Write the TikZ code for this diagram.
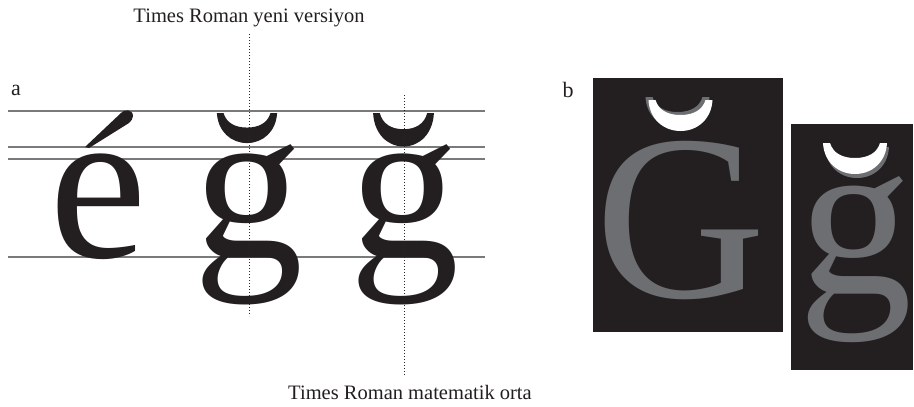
\documentclass[tikz,border=0pt]{standalone}
\usepackage{fontspec}
\setmainfont{Liberation Serif}
\definecolor{ink}{HTML}{231F20}
\definecolor{midgray}{HTML}{6D6E71}
\definecolor{lineg}{HTML}{7A7A7C}
\tikzset{
  caption/.style={inner sep=0pt, anchor=base, text=ink, font=\fontsize{20.5}{24}\selectfont},
  panellabel/.style={inner sep=0pt, anchor=base, text=ink, font=\fontsize{22}{26}\selectfont},
  bigglyph/.style={inner sep=0pt, anchor=base, text=ink, font=\fontsize{220}{220}\selectfont},
  grayglyph/.style={inner sep=0pt, anchor=base, text=midgray},
  guide/.style={draw=lineg, line width=1.3pt},
  dotline/.style={draw=black!85, line width=0.9pt, dash pattern=on 0.9pt off 2.1pt},
  panel/.style={fill=ink},
  brv/.pic={\path[pic actions] (-32,0) .. controls (-31,19) and (-17,31) .. (0,31)
      .. controls (17,31) and (31,19) .. (32,0) -- (25,0)
      .. controls (22,10) and (13,15) .. (0,15)
      .. controls (-13,15) and (-22,10) .. (-25,0) -- cycle;},
  acute/.pic={\path[pic actions] (0,0) -- (36,-34)
      .. controls (39,-38) and (48,-38) .. (48,-31)
      .. controls (48,-28) and (46,-26) .. (44,-24) -- (4,1) -- cycle;}
}
\begin{document}
\begin{tikzpicture}[x=1pt,y=-1pt]
\useasboundingbox (0,0) rectangle (914,407);
% panel a
\node[panellabel] (la) at (16,95) {a};
\draw[guide] (8,111) -- (485,111);
\draw[guide] (8,147) -- (485,147);
\draw[guide] (8,159) -- (485,159);
\draw[guide] (8,257) -- (485,257);
\node[bigglyph] (e) at (98,257) {e};
\pic[fill=ink] at (85,147) {acute};
\node[bigglyph] (g1) at (248,257) {g};
\node[bigglyph] (g2) at (404,257) {g};
\pic[fill=ink, xscale=0.94, yscale=0.97] at (247,113) {brv};
\pic[fill=ink, xscale=0.95, yscale=1.08] at (403.5,113) {brv};
\node[caption] (top) at (249,22) {Times Roman yeni versiyon};
\node[caption] (bot) at (410,399) {Times Roman matematik orta};
\coordinate (d1t) at (249,34);
\coordinate (d1b) at (249,316);
\coordinate (d2t) at (404,95);
\coordinate (d2b) at (404,375);
\draw[dotline] (d1t) -- (d1b);
\draw[dotline] (d2t) -- (d2b);
% panel b
\node[panellabel] (lb) at (568,97) {b};
\fill[panel] (593,78) rectangle (783,332);
\fill[panel] (791,124) rectangle (913,370);
\node[grayglyph, font=\fontsize{236}{236}\selectfont] (G) at (680.5,297) {G};
\node[grayglyph, font=\fontsize{228}{228}\selectfont] (g3) at (855,293) {g};
\pic[fill=midgray] at (677.5,97) {brv};
\pic[fill=white] at (680.5,100) {brv};
\pic[fill=midgray] at (857,147) {brv};
\pic[fill=white] at (855,143) {brv};
\end{tikzpicture}
\end{document}
